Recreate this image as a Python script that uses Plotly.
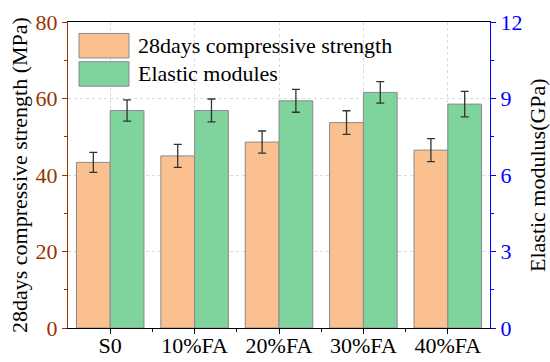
import plotly.graph_objects as go

categories = ["S0", "10%FA", "20%FA", "30%FA", "40%FA"]
strength = [43.3, 45.0, 48.6, 53.7, 46.5]          # MPa
strength_err = [2.6, 3.0, 2.9, 3.1, 3.0]
modulus = [8.53, 8.53, 8.91, 9.24, 8.78]          # GPa
modulus_err = [0.42, 0.45, 0.45, 0.42, 0.50]
left_ticks = [0, 20, 40, 60, 80]
right_ticks = [0, 3, 6, 9, 12]
series_names = ["28days compressive strength", "Elastic modules"]
left_title = "28days compressive strength (MPa)"
right_title = "Elastic modulus(GPa)"

FONT = "Liberation Serif"
ORANGE = "#FAC090"
GREEN = "#7FD39C"
LEFTC = "#993300"
RIGHTC = "#0000FF"

W, H = 550, 362
ML, MR, MT, MB = 68, 60, 22, 33.5
PW, PH = W - ML - MR, H - MT - MB

def px(x):
    return (x - ML) / PW

def py(y):
    return (H - MB - y) / PH

xs = list(range(len(categories)))

fig = go.Figure()
fig.add_trace(go.Bar(
    x=xs, y=strength, width=0.4, offset=-0.4, yaxis="y",
    marker=dict(color=ORANGE, line=dict(color="#8a8a8a", width=1)),
    error_y=dict(type="data", array=strength_err, color="#333333", thickness=1.3, width=4),
    name=series_names[0], showlegend=False,
))
fig.add_trace(go.Bar(
    x=xs, y=modulus, width=0.4, offset=0.0, yaxis="y2",
    marker=dict(color=GREEN, line=dict(color="#8a8a8a", width=1)),
    error_y=dict(type="data", array=modulus_err, color="#333333", thickness=1.3, width=4),
    name=series_names[1], showlegend=False,
))

# custom legend (large swatches)
shapes = []
annotations = []
for i, (name, col) in enumerate(zip(series_names, [ORANGE, GREEN])):
    y0 = 33.5 + i * 28.3
    y1 = y0 + 24.5
    shapes.append(dict(type="rect", xref="paper", yref="paper",
                       x0=px(79), x1=px(129), y0=py(y1), y1=py(y0),
                       fillcolor=col, line=dict(color="#8a8a8a", width=1)))
    annotations.append(dict(xref="paper", yref="paper", x=px(136), y=py((y0 + y1) / 2),
                            text=name, showarrow=False, xanchor="left", yanchor="middle",
                            font=dict(family=FONT, size=22, color="black")))

# axis titles placed as rotated annotations
annotations.append(dict(xref="paper", yref="paper", x=px(19), y=0.5, text=left_title,
                        textangle=-90, showarrow=False, xanchor="center", yanchor="middle",
                        font=dict(family=FONT, size=22, color="black")))
annotations.append(dict(xref="paper", yref="paper", x=px(537), y=0.5, text=right_title,
                        textangle=-90, showarrow=False, xanchor="center", yanchor="middle",
                        font=dict(family=FONT, size=22, color="black")))

fig.update_layout(
    width=W, height=H,
    margin=dict(l=ML, r=MR, t=MT, b=MB, pad=0, autoexpand=False),
    paper_bgcolor="white", plot_bgcolor="white",
    barmode="overlay",
    font=dict(family=FONT, size=22, color="black"),
    shapes=shapes, annotations=annotations,
    xaxis=dict(
        range=[-0.5, 4.5], tickvals=xs, ticktext=categories,
        showline=True, linecolor="black", linewidth=1.2, mirror=True,
        ticks="outside", ticklen=5, tickcolor="black",
        ticklabelstandoff=-8,
        showgrid=True, gridcolor="#d9d9d9", griddash="dot", gridwidth=1,
        tickfont=dict(family=FONT, size=22, color="black"),
        minor=dict(tickvals=[0.5, 1.5, 2.5, 3.5], ticks="outside", ticklen=3, tickcolor="black"),
        zeroline=False, automargin=False,
    ),
    yaxis=dict(
        range=[0, 80], tickvals=left_ticks,
        showline=True, linecolor=LEFTC, linewidth=1.2,
        ticks="outside", ticklen=5, tickcolor=LEFTC,
        tickfont=dict(family=FONT, size=22, color=LEFTC),
        showgrid=True, gridcolor="#d9d9d9", griddash="dot", gridwidth=1,
        minor=dict(tickvals=[10, 30, 50, 70], ticks="outside", ticklen=3, tickcolor=LEFTC),
        zeroline=False, automargin=False,
    ),
    yaxis2=dict(
        range=[0, 12], tickvals=right_ticks, overlaying="y", side="right",
        showline=True, linecolor=RIGHTC, linewidth=1.2,
        ticks="outside", ticklen=5, tickcolor=RIGHTC,
        tickfont=dict(family=FONT, size=22, color=RIGHTC),
        showgrid=False,
        minor=dict(tickvals=[1.5, 4.5, 7.5, 10.5], ticks="outside", ticklen=3, tickcolor=RIGHTC),
        zeroline=False, automargin=False,
    ),
)

fig.write_html(
    "out.html",
    config={"displayModeBar": False},
    post_script="document.body.style.margin='0';document.body.style.padding='0';",
)
